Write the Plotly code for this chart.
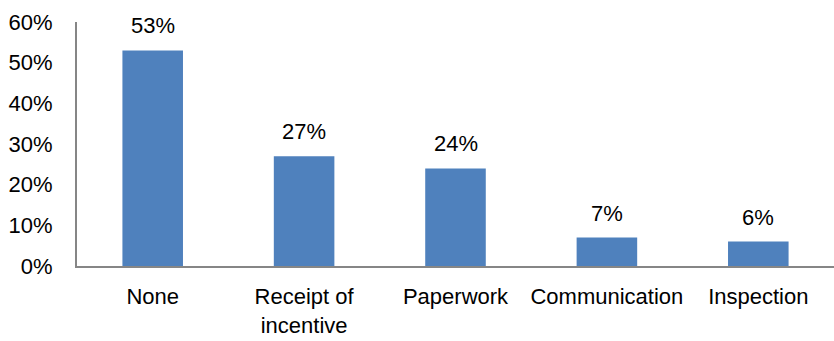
import plotly.graph_objects as go

categories = ["None", "Receipt of<br>incentive", "Paperwork", "Communication", "Inspection"]
shares = [0.53, 0.27, 0.24, 0.07, 0.06]
y_ticks = [0, 0.1, 0.2, 0.3, 0.4, 0.5, 0.6]
y_tick_labels = ["0%", "10%", "20%", "30%", "40%", "50%", "60%"]

FONT = "Liberation Sans, Arial, sans-serif"
BAR_COLOR = "#4F81BD"
AXIS_COLOR = "#868686"
FONT_SIZE = 22

fig = go.Figure(
    go.Bar(
        x=categories,
        y=shares,
        marker=dict(color=BAR_COLOR, line=dict(width=0)),
        hoverinfo="skip",
    )
)

# value labels above each bar
for cat, val in zip(categories, shares):
    fig.add_annotation(
        x=cat, y=val, text=f"{round(val * 100)}%",
        showarrow=False, yanchor="bottom", yshift=10,
        font=dict(family=FONT, size=FONT_SIZE, color="#000000"),
    )

fig.update_layout(
    width=834, height=341,
    margin=dict(l=77, r=0, t=22, b=75),
    paper_bgcolor="white", plot_bgcolor="white",
    bargap=0.6,
    showlegend=False,
    font=dict(family=FONT, size=FONT_SIZE, color="#000000"),
)
fig.update_xaxes(
    showline=True, linecolor=AXIS_COLOR, linewidth=2,
    showgrid=False, ticks="", tickfont=dict(size=FONT_SIZE),
    ticklabelstandoff=10,
)
fig.update_yaxes(
    range=[0, 0.6], tickvals=y_ticks, ticktext=y_tick_labels,
    showline=True, linecolor=AXIS_COLOR, linewidth=2,
    showgrid=False, zeroline=False, ticks="",
    ticklabelstandoff=18, tickfont=dict(size=FONT_SIZE),
)

fig.write_html("out.html")
